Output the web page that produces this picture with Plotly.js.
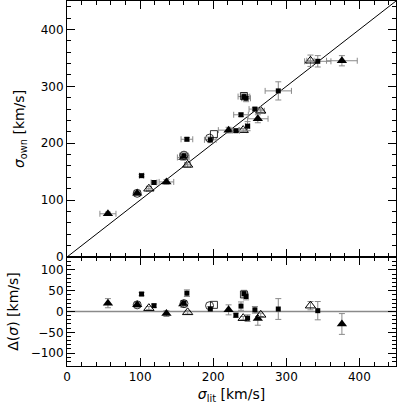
<!DOCTYPE html>
<html>
<head>
<meta charset="utf-8">
<script src="https://cdn.plot.ly/plotly-3.0.1.min.js"></script>
<style>
  html, body { margin: 0; padding: 0; background: #fff; }
  #chart { width: 398px; height: 405px; }
</style>
</head>
<body>
<div id="chart"></div>
<script>
// filled triangles
var triLit  = [56, 96, 136, 159, 221, 261, 376];
var triOwn  = [76, 112, 132, 175, 223, 243, 345];
var triLitE = [11, 4, 10, 8, 14, 14, 21];
var triOwnE = [3, 4, 4, 5, 5, 7, 9];
var triDel  = [20, 16, -5, 18, 4, -17, -30];
var triDelE = [11, 6, 7, 8, 12, 16, 25];

// open triangles
var otriLit  = [112, 165, 241, 265, 333];
var otriOwn  = [120, 162, 223, 257, 345];
var otriLitE = [3, 4, 5, 5, 5];
var otriOwnE = [4, 4, 3, 3, 10];
var otriDel  = [8, -2, -16, -8, 14];
var otriDelE = [4, 4, 4, 4, 10];

// filled squares
var sqLit  = [102, 119, 160, 164, 196, 231, 238, 242, 245, 247, 257, 289, 343];
var sqOwn  = [143, 131, 178, 207, 206, 222, 250, 282, 279, 230, 260, 292, 344];
var sqLitE = [3, 4, 6, 8, 8, 5, 10, 8, 6, 3, 8, 18, 18];
var sqOwnE = [2, 3, 5, 3, 5, 3, 3, 6, 6, 8, 3, 16, 10];
var sqDel  = [42, 14, 20, 44, 6, -9, 13, 43, 36, -16, 4, 6, 2];
var sqDelE = [4, 4, 5, 8, 6, 5, 10, 8, 8, 8, 8, 25, 22];

// open circles
var ciLit = [96, 160, 195];
var ciOwn = [112, 179, 209];
var ciDel = [16, 19, 14];

// open squares
var osqLit = [201, 242];
var osqOwn = [216, 283];
var osqDel = [16, 41];

// one-to-one line and zero line
var lineX = [0, 450];

var ebColor = '#8a8a8a';
var fnt = 'DejaVu Sans, sans-serif';

function errX(arr) {
  return {type: 'data', array: arr, visible: true, color: ebColor, thickness: 1, width: 3};
}

var data = [
  {x: lineX, y: lineX, xaxis: 'x2', yaxis: 'y2', mode: 'lines',
   line: {color: '#000', width: 1}, hoverinfo: 'skip'},
  {x: lineX, y: [0, 0], xaxis: 'x', yaxis: 'y', mode: 'lines',
   line: {color: '#8a8a8a', width: 1.3}, hoverinfo: 'skip'},

  // top panel
  {x: triLit, y: triOwn, xaxis: 'x2', yaxis: 'y2', mode: 'markers',
   error_x: errX(triLitE), error_y: errX(triOwnE),
   marker: {symbol: 'triangle-up', size: 9, color: '#000'}},
  {x: otriLit, y: otriOwn, xaxis: 'x2', yaxis: 'y2', mode: 'markers',
   error_x: errX(otriLitE), error_y: errX(otriOwnE),
   marker: {symbol: 'triangle-up-open', size: 9, color: '#000', line: {width: 1}}},
  {x: sqLit, y: sqOwn, xaxis: 'x2', yaxis: 'y2', mode: 'markers',
   error_x: errX(sqLitE), error_y: errX(sqOwnE),
   marker: {symbol: 'square', size: 5, color: '#000'}},
  {x: ciLit, y: ciOwn, xaxis: 'x2', yaxis: 'y2', mode: 'markers',
   marker: {symbol: 'circle-open', size: 8, color: '#000', line: {width: 0.8}}},
  {x: osqLit, y: osqOwn, xaxis: 'x2', yaxis: 'y2', mode: 'markers',
   marker: {symbol: 'square-open', size: 7, color: '#000', line: {width: 0.8}}},

  // bottom panel
  {x: triLit, y: triDel, xaxis: 'x', yaxis: 'y', mode: 'markers',
   error_y: errX(triDelE),
   marker: {symbol: 'triangle-up', size: 9, color: '#000'}},
  {x: otriLit, y: otriDel, xaxis: 'x', yaxis: 'y', mode: 'markers',
   error_y: errX(otriDelE),
   marker: {symbol: 'triangle-up-open', size: 9, color: '#000', line: {width: 1}}},
  {x: sqLit, y: sqDel, xaxis: 'x', yaxis: 'y', mode: 'markers',
   error_y: errX(sqDelE),
   marker: {symbol: 'square', size: 5, color: '#000'}},
  {x: ciLit, y: ciDel, xaxis: 'x', yaxis: 'y', mode: 'markers',
   marker: {symbol: 'circle-open', size: 8, color: '#000', line: {width: 0.8}}},
  {x: osqLit, y: osqDel, xaxis: 'x', yaxis: 'y', mode: 'markers',
   marker: {symbol: 'square-open', size: 7, color: '#000', line: {width: 0.8}}}
];

var axBase = {
  showline: true, linecolor: '#000', linewidth: 1, mirror: 'allticks',
  ticks: 'inside', ticklen: 8, tickcolor: '#000', tickwidth: 1,
  showgrid: false, zeroline: false,
  tickfont: {family: fnt, size: 12, color: '#000'}
};

function ax(extra) {
  return Object.assign({}, axBase, extra);
}

var layout = {
  width: 398, height: 405,
  margin: {l: 67, r: 2, t: 1, b: 39},
  showlegend: false,
  paper_bgcolor: '#fff', plot_bgcolor: '#fff',
  xaxis: ax({domain: [0, 1], range: [0, 450], anchor: 'y', dtick: 100,
    minor: {dtick: 20, ticks: 'inside', ticklen: 4, tickcolor: '#000'},
    title: {text: '<i>σ</i><sub>lit</sub> [km/s]', font: {family: fnt, size: 14, color: '#000'}, standoff: 5}}),
  yaxis: ax({domain: [0, 0.2986], range: [-131, 131], anchor: 'x', dtick: 50,
    tickvals: [-100, -50, 0, 50, 100],
    minor: {dtick: 10, ticks: 'inside', ticklen: 4, tickcolor: '#000'},
    title: {text: 'Δ(<i>σ</i>) [km/s]', font: {family: fnt, size: 14, color: '#000'}, standoff: 8}}),
  xaxis2: ax({domain: [0, 1], range: [0, 450], anchor: 'y2', dtick: 100, showticklabels: false,
    minor: {dtick: 20, ticks: 'inside', ticklen: 4, tickcolor: '#000'}}),
  yaxis2: ax({domain: [0.2986, 1], range: [0, 450], anchor: 'x2', dtick: 100,
    minor: {dtick: 20, ticks: 'inside', ticklen: 4, tickcolor: '#000'},
    title: {text: '<i>σ</i><sub>own</sub> [km/s]', font: {family: fnt, size: 14, color: '#000'}, standoff: 12}})
};

var config = {staticPlot: true};
Plotly.newPlot('chart', data, layout, config);
</script>
</body>
</html>
